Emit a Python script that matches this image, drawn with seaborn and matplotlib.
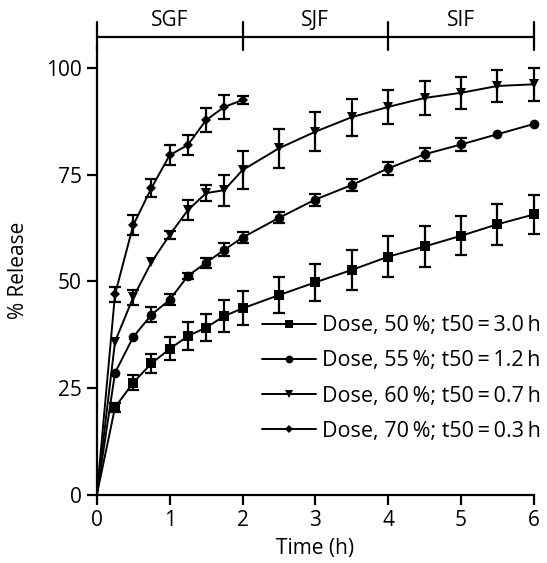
import numpy as np
import pandas as pd
import matplotlib
matplotlib.use("Agg")
import matplotlib.pyplot as plt
import seaborn as sns

# sampling times (h)
t_sgf = [0, 0.25, 0.5, 0.75, 1.0, 1.25, 1.5, 1.75, 2.0]
t_all = t_sgf + [2.5, 3.0, 3.5, 4.0, 4.5, 5.0, 5.5, 6.0]

# % release, mean and SD per formulation
dose50 = [0, 20.5, 26.3, 30.8, 34.2, 37.2, 39.2, 41.9, 43.7, 46.8, 49.8, 52.7, 55.8, 58.2, 60.7, 63.4, 65.7]
err50 = [0, 1.0, 1.7, 2.3, 2.7, 3.3, 3.2, 3.8, 4.0, 4.2, 4.3, 4.7, 4.8, 4.7, 4.6, 4.8, 4.6]
dose55 = [0, 28.6, 37.0, 42.2, 45.7, 51.3, 54.4, 57.4, 60.3, 64.9, 69.2, 72.6, 76.5, 79.8, 82.1, 84.5, 86.9]
err55 = [0, 0, 0, 1.8, 1.3, 0.8, 1.2, 1.5, 1.2, 1.3, 1.4, 1.4, 1.6, 1.5, 1.6, 0, 0]
dose60 = [0, 35.9, 46.3, 54.5, 60.9, 66.7, 70.7, 71.4, 76.1, 81.2, 85.1, 88.5, 90.9, 93.0, 94.2, 95.8, 96.2]
err60 = [0, 0, 1.8, 0, 1.0, 2.4, 1.8, 3.6, 4.5, 4.5, 4.6, 4.3, 4.0, 3.9, 3.7, 3.8, 3.9]
dose70 = [0, 47.0, 63.2, 71.9, 79.6, 82.0, 87.8, 90.9, 92.5]
err70 = [0, 1.8, 2.3, 2.0, 2.3, 2.3, 2.8, 2.8, 1.0]

labels = [
    "Dose, 50\u2009%; t50\u2009=\u20093.0\u2009h",
    "Dose, 55\u2009%; t50\u2009=\u20091.2\u2009h",
    "Dose, 60\u2009%; t50\u2009=\u20090.7\u2009h",
    "Dose, 70\u2009%; t50\u2009=\u20090.3\u2009h",
]

# dissolution media along the time axis
phases = ["SGF", "SJF", "SIF"]
phase_edges = [0, 2, 4, 6]

series = [
    (t_all, dose50, err50, "s", 7.5),
    (t_all, dose55, err55, "o", 7),
    (t_all, dose60, err60, "v", 7.5),
    (t_sgf, dose70, err70, "D", 5),
]

sns.set_theme(style="ticks")
plt.rcParams["font.family"] = ["Open Sans", "DejaVu Sans"]
plt.rcParams["font.size"] = 15
plt.rcParams["text.color"] = "black"
plt.rcParams["axes.labelcolor"] = "black"
plt.rcParams["xtick.color"] = "black"
plt.rcParams["ytick.color"] = "black"

fig = plt.figure(figsize=(5.47, 5.63), dpi=100)
ax = fig.add_axes([0.177, 0.121, 0.799, 0.796])

for (t, y, e, mk, ms), lab in zip(series, labels):
    df = pd.DataFrame({"t": t, "y": y, "e": e})
    # no marker at the origin
    sns.lineplot(data=df, x="t", y="y", ax=ax, color="black", lw=1.4,
                 marker=mk, markersize=ms, markeredgewidth=0,
                 markevery=list(range(1, len(t))),
                 label=lab, clip_on=False, zorder=3)
    m = df[df["e"] > 0]
    ax.errorbar(m["t"], m["y"], yerr=m["e"], fmt="none", ecolor="black",
                elinewidth=1.6, capsize=4, capthick=1.6, clip_on=False, zorder=2)

ax.set_xlim(0, 6)
ax.set_ylim(0, 105)
ax.set_xticks([0, 1, 2, 3, 4, 5, 6])
ax.set_yticks([0, 25, 50, 75, 100])
ax.set_xlabel("Time (h)", fontsize=15, labelpad=5)
ax.set_ylabel("% Release", fontsize=15, labelpad=12)
ax.tick_params(labelsize=15, length=7, width=1.6, pad=4)
for s in ["left", "bottom"]:
    ax.spines[s].set_linewidth(1.6)
    ax.spines[s].set_color("black")
sns.despine(ax=ax)

# phase band above the plot
ax.plot([phase_edges[0], phase_edges[-1]], [107.3, 107.3], color="black",
        lw=1.6, clip_on=False)
for x in phase_edges:
    ax.plot([x, x], [104.2, 110.8], color="black", lw=1.6, clip_on=False)
for name, a, b in zip(phases, phase_edges[:-1], phase_edges[1:]):
    ax.text((a + b) / 2, 108.8, name, ha="center", va="bottom", fontsize=15)

leg = ax.legend(loc="lower right", bbox_to_anchor=(1.061, 0.075), frameon=False,
                fontsize=15.5, handlelength=2.5, handletextpad=0.3,
                labelspacing=0.66, markerscale=0.8)

fig.savefig("out.png", dpi=100)
